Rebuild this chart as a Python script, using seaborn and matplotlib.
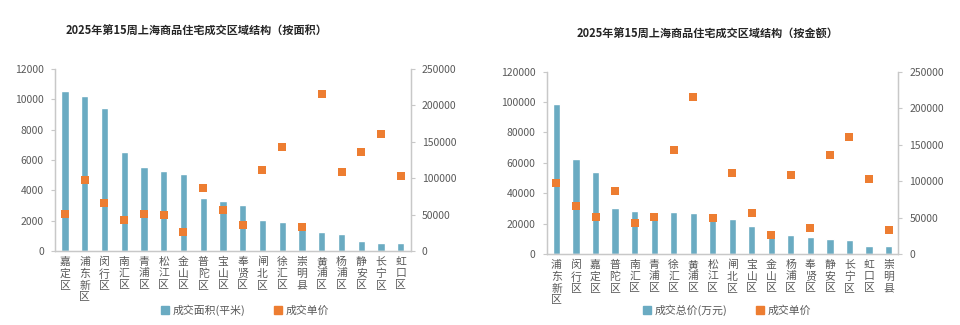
import matplotlib
matplotlib.use("Agg")
import matplotlib.pyplot as plt
import seaborn as sns
import pandas as pd
from matplotlib.lines import Line2D

sns.set_theme(style="white")
plt.rcParams['font.family'] = ['Noto Sans CJK SC', 'DejaVu Sans']

# ---- data: by area ----
area_districts = ["嘉定区", "浦东新区", "闵行区", "南汇区", "青浦区", "松江区", "金山区", "普陀区", "宝山区",
                  "奉贤区", "闸北区", "徐汇区", "崇明县", "黄浦区", "杨浦区", "静安区", "长宁区", "虹口区"]
area_values = [10550, 10220, 9410, 6500, 5540, 5280, 5100, 3470, 3280,
               3010, 2070, 1940, 1450, 1230, 1100, 640, 550, 550]
area_prices = [51200, 96900, 66300, 43000, 50300, 49400, 26100, 86900, 56200,
               35700, 111100, 142600, 32900, 215300, 108800, 135300, 160900, 102900]

# ---- data: by amount ----
amt_districts = ["浦东新区", "闵行区", "嘉定区", "普陀区", "南汇区", "青浦区", "徐汇区", "黄浦区", "松江区",
                 "闸北区", "宝山区", "金山区", "杨浦区", "奉贤区", "静安区", "长宁区", "虹口区", "崇明县"]
amt_values = [98700, 62300, 53700, 30100, 28500, 27700, 27800, 27000, 26000,
              23000, 18600, 13300, 12500, 11000, 9600, 9000, 5500, 5500]
amt_prices = [97800, 66300, 51200, 86900, 43000, 50300, 142600, 215300, 49400,
              111100, 56200, 26100, 108800, 35700, 135300, 160900, 102900, 32900]

titles = ["2025年第15周上海商品住宅成交区域结构（按面积）", "2025年第15周上海商品住宅成交区域结构（按金额）"]
bar_labels = ["成交面积(平米)", "成交总价(万元)"]
price_label = "成交单价"

BLUE = "#6AABC2"
ORANGE = "#ED7D31"
GRAY = "#595959"
SPINE = "#C8C8C8"

fig = plt.figure(figsize=(9.6, 3.25), dpi=100)

panels = [
    dict(rect=[0.0573, 0.2277, 0.3705, 0.5600], cats=area_districts, vals=area_values, prices=area_prices,
         ylim=(0, 12000), yticks=range(0, 12001, 2000), title=titles[0], title_xy=(0.205, 0.905),
         bl=bar_labels[0], leg_x=0.255),
    dict(rect=[0.5695, 0.2185, 0.3662, 0.5609], cats=amt_districts, vals=amt_values, prices=amt_prices,
         ylim=(0, 120000), yticks=range(0, 120001, 20000), title=titles[1], title_xy=(0.737, 0.895),
         bl=bar_labels[1], leg_x=0.757),
]

for p in panels:
    ax = fig.add_axes(p["rect"])
    df = pd.DataFrame({"区域": p["cats"], "值": p["vals"], "单价": p["prices"]})
    sns.barplot(data=df, x="区域", y="值", order=p["cats"], color=BLUE, width=0.37,
                saturation=1, ax=ax)
    ax.set_ylim(*p["ylim"])
    ax.set_yticks(list(p["yticks"]))
    ax.set_xlim(-0.5, len(p["cats"]) - 0.5)
    ax.set_xlabel("")
    ax.set_ylabel("")
    ax.set_xticks(range(len(p["cats"])))
    ax.set_xticklabels(["\n".join(c) for c in p["cats"]], fontsize=7.8, color=GRAY,
                       linespacing=1.22, va="top")
    ax.tick_params(axis="x", length=0, pad=4)
    ax.tick_params(axis="y", length=3, width=0.8, color=SPINE, labelsize=7.5, labelcolor=GRAY, pad=5)

    ax2 = ax.twinx()
    sns.stripplot(data=df, x="区域", y="单价", order=p["cats"], jitter=False, marker="s",
                  color=ORANGE, size=6.2, linewidth=0, ax=ax2)
    ax2.set_ylim(0, 250000)
    ax2.set_yticks(range(0, 250001, 50000))
    ax2.set_ylabel("")
    ax2.set_xlim(-0.5, len(p["cats"]) - 0.5)
    ax2.tick_params(axis="y", length=3, width=0.8, color=SPINE, labelsize=7.5, labelcolor=GRAY, pad=5)

    for a in (ax, ax2):
        a.spines["top"].set_visible(False)
        for s in ("left", "right", "bottom"):
            a.spines[s].set_color(SPINE)
            a.spines[s].set_linewidth(0.9)
        a.set_facecolor("none")
    ax.grid(False)
    ax2.grid(False)

    fig.text(p["title_xy"][0], p["title_xy"][1], p["title"], ha="center", va="center",
             fontsize=8, fontweight="bold", color="#262626")

    handles = [Line2D([], [], marker="s", linestyle="none", color=BLUE, markersize=5.5),
               Line2D([], [], marker="s", linestyle="none", color=ORANGE, markersize=5.5)]
    fig.legend(handles, [p["bl"], price_label], loc="center", bbox_to_anchor=(p["leg_x"], 0.046),
               ncol=2, frameon=False, fontsize=7.8, labelcolor=GRAY, handlelength=0.8,
               handletextpad=0.3, columnspacing=2.6)

fig.savefig("out.png", dpi=100)
